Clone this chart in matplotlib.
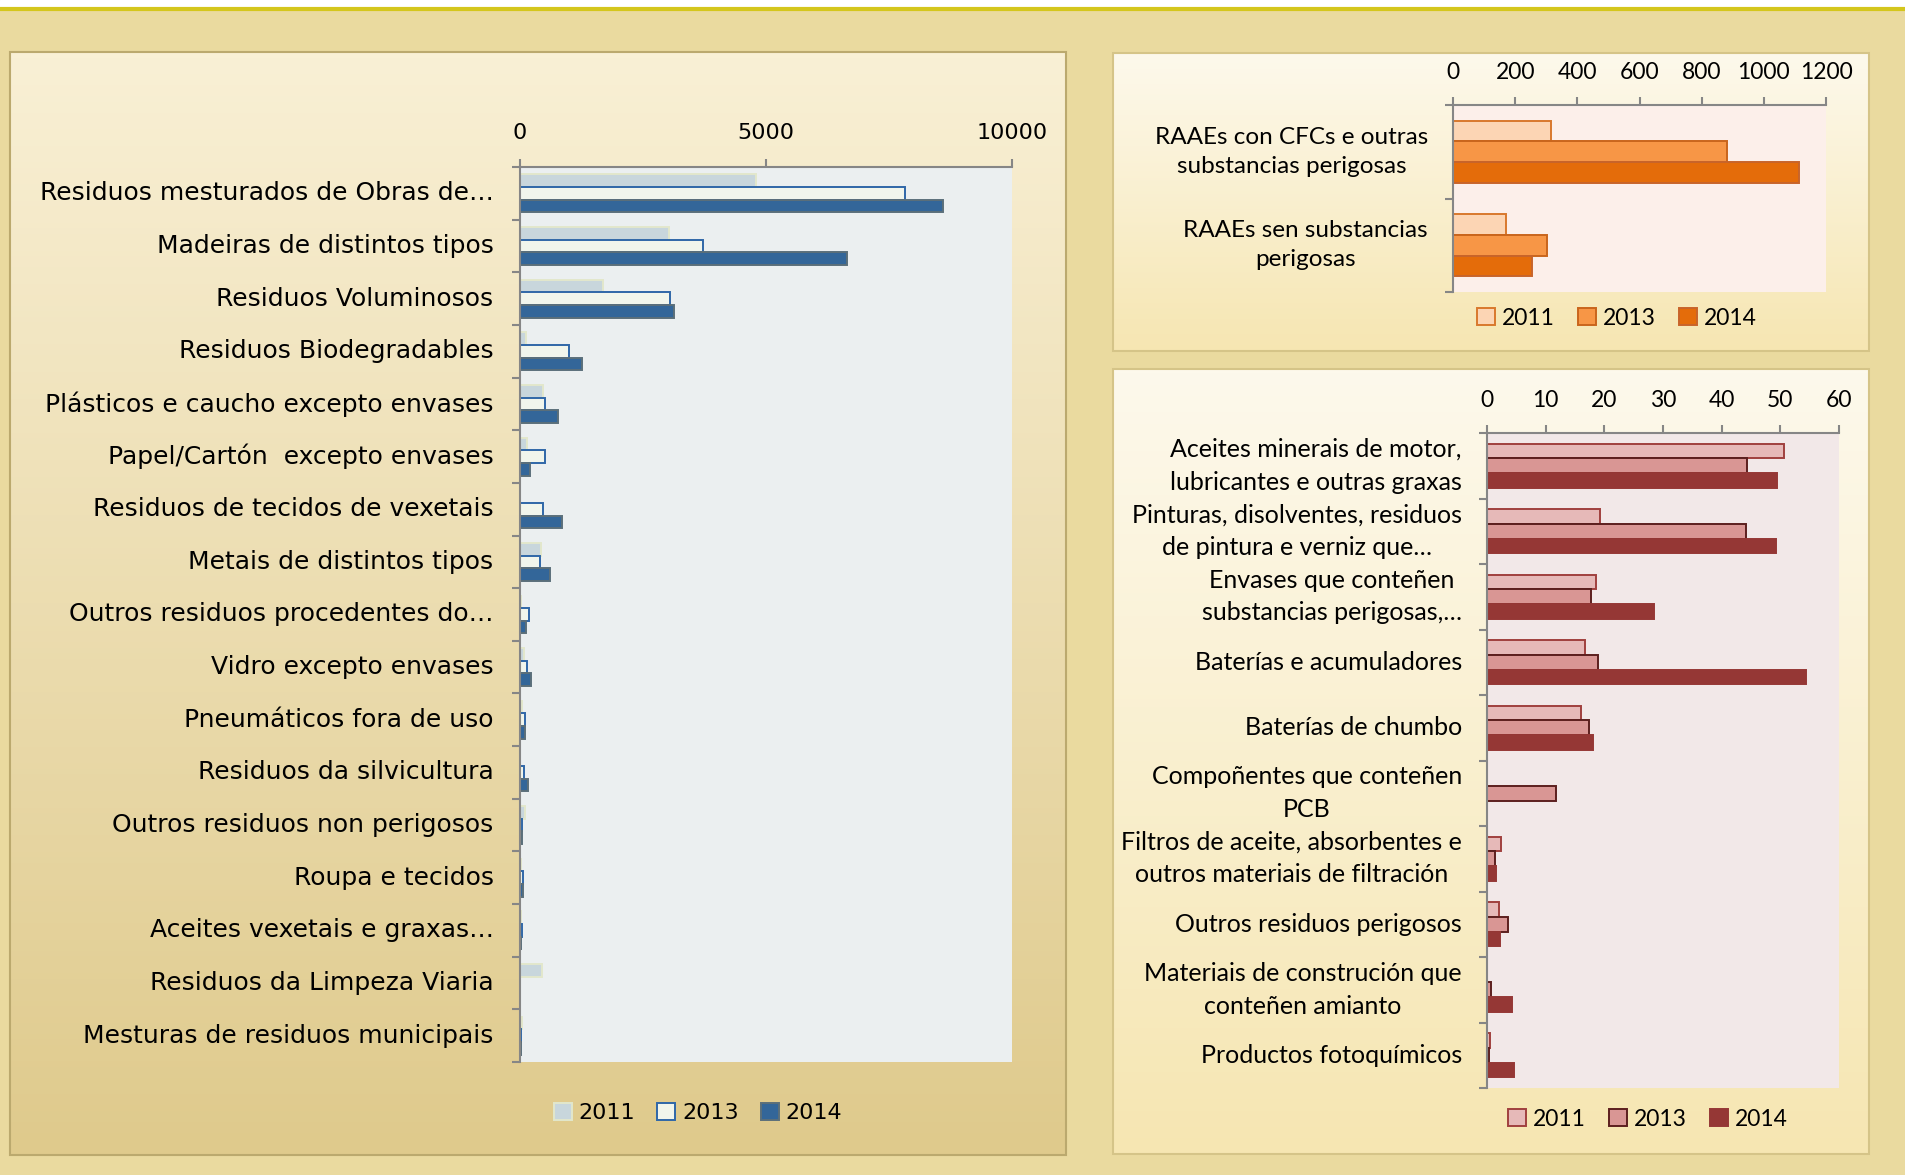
import numpy as np
import matplotlib
matplotlib.use('Agg')
import matplotlib.pyplot as plt
from matplotlib.colors import LinearSegmentedColormap
from matplotlib.patches import Rectangle

W, H = 1905, 1175
plt.rcParams['font.family'] = ['Lato', 'DejaVu Sans']

years = ['2011', '2013', '2014']

# left chart: non hazardous waste
left_cats = ['Residuos mesturados de Obras de…', 'Madeiras de distintos tipos',
             'Residuos Voluminosos', 'Residuos Biodegradables',
             'Plásticos e caucho excepto envases', 'Papel/Cartón  excepto envases',
             'Residuos de tecidos de vexetais', 'Metais de distintos tipos',
             'Outros residuos procedentes do…', 'Vidro excepto envases',
             'Pneumáticos fora de uso', 'Residuos da silvicultura',
             'Outros residuos non perigosos', 'Roupa e tecidos',
             'Aceites vexetais e graxas…', 'Residuos da Limpeza Viaria',
             'Mesturas de residuos municipais']
left_2011 = [4800, 3020, 1680, 120, 470, 150, 0, 420, 30, 73, 44, 0, 109, 22, 22, 443, 36]
left_2013 = [7830, 3710, 3050, 990, 510, 510, 465, 410, 182, 145, 94, 73, 36, 58, 36, 0, 20]
left_2014 = [8600, 6640, 3130, 1250, 780, 210, 860, 600, 131, 218, 102, 160, 36, 51, 29, 0, 20]

# top right: RAAEs
raee_cats = ['RAAEs con CFCs e outras\nsubstancias perigosas',
             'RAAEs sen substancias\nperigosas']
raee_2011 = [315, 170]
raee_2013 = [883, 302]
raee_2014 = [1112, 254]

# bottom right: hazardous waste
per_cats = ['Aceites minerais de motor,\nlubricantes e outras graxas',
            'Pinturas, disolventes, residuos\nde pintura e verniz que…',
            'Envases que conteñen\nsubstancias perigosas,…',
            'Baterías e acumuladores', 'Baterías de chumbo',
            'Compoñentes que conteñen\nPCB',
            'Filtros de aceite, absorbentes e\noutros materiais de filtración',
            'Outros residuos perigosos',
            'Materiais de construción que\nconteñen amianto',
            'Productos fotoquímicos']
per_2011 = [50.6, 19.2, 18.6, 16.7, 16.1, 0, 2.4, 2.1, 0, 0.55]
per_2013 = [44.4, 44.1, 17.8, 19.0, 17.4, 11.7, 1.3, 3.6, 0.75, 0.3]
per_2014 = [49.4, 49.2, 28.4, 54.4, 18.1, 0, 1.5, 2.2, 4.3, 4.6]


def box(x0, y0, x1, y1):
    return [x0 / W, 1 - y1 / H, (x1 - x0) / W, (y1 - y0) / H]


def panel(x0, y0, x1, y1, c_top, c_bot, edge):
    pax = fig.add_axes(box(x0, y0, x1, y1), zorder=0)
    cmap = LinearSegmentedColormap.from_list('g', [c_top, c_bot])
    pax.imshow(np.linspace(0, 1, 200).reshape(-1, 1), cmap=cmap,
               aspect='auto', extent=[0, 1, 0, 1])
    pax.set_axis_off()
    pax.add_patch(Rectangle((0, 0), 1, 1, transform=pax.transAxes, fill=False,
                            edgecolor=edge, lw=1.5, clip_on=False))


def bars(ax, cats, vals, fills, edges, h, xmax, xstep, fsize, tsize, pad, xpad, bg, font, lsp):
    n = len(cats)
    y = np.arange(n)
    hs = []
    for i in range(3):
        hs.append(ax.barh(y + (i - 1) * h, vals[i], height=h, color=fills[i],
                          edgecolor=edges[i], linewidth=1.4, label=years[i]))
    ax.set_facecolor(bg)
    ax.set_ylim(n - 0.5, -0.5)
    ax.set_xlim(0, xmax)
    ax.set_xticks(np.arange(0, xmax + 1, xstep))
    ax.xaxis.tick_top()
    ax.set_yticks(y)
    ax.set_yticklabels(cats, fontsize=fsize, family=font, multialignment='center',
                       linespacing=lsp)
    for t in ax.get_yticklabels():
        t.set_verticalalignment('center')
    ax.set_yticks(np.arange(n + 1) - 0.5, minor=True)
    ax.tick_params(axis='y', which='major', length=0, pad=pad)
    ax.tick_params(axis='y', which='minor', length=6, color='#868686', width=1.5)
    ax.tick_params(axis='x', length=6, color='#868686', width=1.5,
                   labelsize=tsize, pad=xpad)
    for t in ax.get_xticklabels():
        t.set_family(font)
    for s in ['right', 'bottom']:
        ax.spines[s].set_visible(False)
    for s in ['top', 'left']:
        ax.spines[s].set_color('#868686')
        ax.spines[s].set_linewidth(1.5)
    return hs


fig = plt.figure(figsize=(W / 100, H / 100), dpi=100)
fig.patch.set_facecolor('#EADA9F')
fig.patches.append(Rectangle((0, 1 - 7 / H), 1, 7 / H, transform=fig.transFigure,
                             color='white', zorder=0))
fig.lines.append(plt.Line2D([0, 1], [1 - 9 / H, 1 - 9 / H], transform=fig.transFigure,
                            color='#D4C61C', lw=3))

panel(10, 52, 1066, 1155, '#F9F0D5', '#DFCA8C', '#BBA96E')
panel(1113, 53, 1869, 351, '#FDF9EC', '#F6E6B2', '#D5C488')
panel(1113, 369, 1869, 1154, '#FDF9EC', '#F6E6B2', '#D5C488')

lfont = ['DejaVu Sans']
rfont = ['Lato', 'DejaVu Sans']

ax1 = fig.add_axes(box(520, 167, 1012, 1062), zorder=2)
h1 = bars(ax1, left_cats, [left_2011, left_2013, left_2014],
          ['#C8D6DC', '#F1F5EC', '#336699'], ['#E2E7CC', '#2F67A8', '#5B6F7A'],
          0.24, 10000, 5000, 18, 16, 19, 11, '#EBEFF0', lfont, 1.2)
fig.legend(h1, years, loc='center', bbox_to_anchor=(698 / W, 1 - 1113 / H), ncol=3,
           frameon=False, prop={'family': lfont, 'size': 16}, handlelength=0.8,
           handleheight=0.8, handletextpad=0.3, columnspacing=1.0)

ax2 = fig.add_axes(box(1453, 105, 1826, 292), zorder=2)
h2 = bars(ax2, raee_cats, [raee_2011, raee_2013, raee_2014],
          ['#FCD5B4', '#F79646', '#E46C0A'], ['#D9782D', '#C9651C', '#C8642A'],
          0.22, 1200, 200, 17.5, 16.5, 18, 10, '#FCEFEA', rfont, 1.5)
fig.legend(h2, years, loc='center', bbox_to_anchor=(1617 / W, 1 - 318 / H), ncol=3,
           frameon=False, prop={'family': rfont, 'size': 16.5}, handlelength=0.8,
           handleheight=0.8, handletextpad=0.3, columnspacing=1.0)

ax3 = fig.add_axes(box(1487, 433, 1839, 1088), zorder=2)
h3 = bars(ax3, per_cats, [per_2011, per_2013, per_2014],
          ['#E6B9B8', '#D99694', '#953735'], ['#A0403E', '#5C1F1E', '#953735'],
          0.225, 60, 10, 18, 16.5, 18, 10, '#F2E8E8', rfont, 1.5)
fig.legend(h3, years, loc='center', bbox_to_anchor=(1648 / W, 1 - 1119 / H), ncol=3,
           frameon=False, prop={'family': rfont, 'size': 16.5}, handlelength=0.8,
           handleheight=0.8, handletextpad=0.3, columnspacing=1.0)

fig.savefig('out.png', dpi=100, facecolor=fig.get_facecolor())
